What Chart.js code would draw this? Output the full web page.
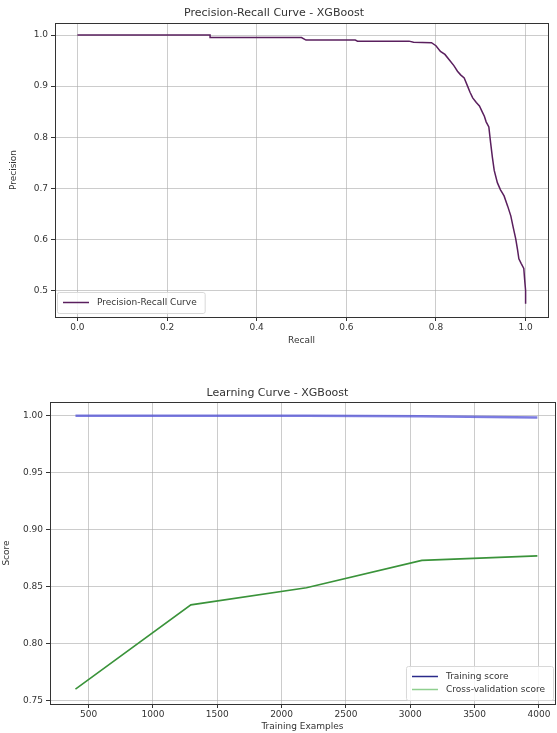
<!DOCTYPE html>
<html>
<head>
<meta charset="utf-8">
<script src="https://cdn.jsdelivr.net/npm/chart.js@4"></script>
<style>
  html, body { margin: 0; padding: 0; background: #fff; }
  #prWrap { position: absolute; left: 0; top: 0; }
  #lcWrap { position: absolute; left: 0; top: 365px; }
</style>
</head>
<body>
<div id="prWrap"><canvas id="prChart" width="557" height="365"></canvas></div>
<div id="lcWrap"><canvas id="lcChart" width="557" height="368"></canvas></div>
<script>
// precision-recall curve
const prRecall = [0.0, 0.296, 0.296, 0.50, 0.51, 0.62, 0.625, 0.74, 0.75, 0.79, 0.80, 0.81, 0.82, 0.83,
  0.84, 0.848, 0.855, 0.863, 0.871, 0.876, 0.882, 0.89, 0.897, 0.903, 0.908, 0.912, 0.918, 0.922,
  0.926, 0.93, 0.937, 0.944, 0.952, 0.96, 0.967, 0.972, 0.978, 0.982, 0.985, 0.99, 0.996, 0.998, 1.0, 1.0];
const prPrecision = [1.0, 1.0, 0.995, 0.995, 0.99, 0.99, 0.988, 0.988, 0.986, 0.985, 0.979, 0.968, 0.962, 0.951,
  0.94, 0.929, 0.922, 0.916, 0.899, 0.888, 0.877, 0.868, 0.861, 0.85, 0.841, 0.83, 0.82, 0.789,
  0.76, 0.735, 0.711, 0.697, 0.685, 0.665, 0.646, 0.625, 0.601, 0.58, 0.562, 0.553, 0.543, 0.52, 0.5, 0.474];
const prXTicks = [0, 0.2, 0.4, 0.6, 0.8, 1.0];
const prYTicks = [0.5, 0.6, 0.7, 0.8, 0.9, 1.0];

// learning curve
const trainSizes = [398, 1295, 2193, 3090, 3988];
const trainScore = [1.0, 1.0, 1.0, 0.9995, 0.9985];
const cvScore = [0.760, 0.834, 0.849, 0.873, 0.877];
const lcXTicks = [500, 1000, 1500, 2000, 2500, 3000, 3500, 4000];
const lcYTicks = [0.75, 0.80, 0.85, 0.90, 0.95, 1.00];

Chart.defaults.font.family = '"DejaVu Sans", sans-serif';
Chart.defaults.font.size = 9;
Chart.defaults.color = '#333';

const textColor = '#333';
const gridColor = 'rgba(170,170,170,0.6)';

// full box around the plot, like matplotlib spines
const frame = {
  id: 'frame',
  afterDraw(chart) {
    const { ctx, chartArea: a } = chart;
    ctx.save();
    ctx.strokeStyle = '#333';
    ctx.lineWidth = 1;
    ctx.strokeRect(Math.round(a.left) + 0.5, Math.round(a.top) + 0.5,
      Math.round(a.right - a.left), Math.round(a.bottom - a.top));
    ctx.restore();
  }
};

// legend box inside the plot area
const boxLegend = {
  id: 'boxLegend',
  afterDraw(chart, args, opts) {
    const { ctx, chartArea: a } = chart;
    const items = chart.data.datasets;
    ctx.save();
    ctx.font = '9px "DejaVu Sans", sans-serif';
    const rowH = 13;
    const w = Math.max(...items.map(d => ctx.measureText(d.label).width)) + 48;
    const h = items.length * rowH + 8;
    const x = opts.corner === 'left' ? a.left + 2 : a.right - 2 - w;
    const y = a.bottom - 4 - h;
    ctx.fillStyle = 'rgba(255,255,255,0.85)';
    ctx.strokeStyle = '#d8d8d8';
    ctx.lineWidth = 1;
    ctx.beginPath();
    ctx.roundRect(x + 0.5, y + 0.5, w, h, 2);
    ctx.fill();
    ctx.stroke();
    items.forEach((d, i) => {
      const cy = y + 4 + rowH * (i + 0.5);
      ctx.strokeStyle = d.legendColor || d.borderColor;
      ctx.lineWidth = 1.5;
      ctx.beginPath();
      ctx.moveTo(x + 6, cy);
      ctx.lineTo(x + 32, cy);
      ctx.stroke();
      ctx.fillStyle = textColor;
      ctx.textBaseline = 'middle';
      ctx.fillText(d.label, x + 40, cy);
    });
    ctx.restore();
  }
};

// one matplotlib-looking axis; size is the fixed width (y) or height (x) of the axis box
function axis(min, max, ticks, fmt, title, size, tickPad, titlePad) {
  return {
    type: 'linear',
    min: min,
    max: max,
    afterBuildTicks: s => { s.ticks = ticks.map(v => ({ value: v })); },
    afterFit: s => { if (s.isHorizontal()) s.height = size; else s.width = size; },
    ticks: { callback: v => fmt(v), color: textColor, autoSkip: false, maxRotation: 0, padding: tickPad },
    grid: { color: gridColor, tickColor: '#333', tickLength: 4 },
    border: { display: false },
    title: { display: true, text: title, color: textColor, font: { size: 9 }, padding: titlePad }
  };
}

new Chart(document.getElementById('prChart'), {
  type: 'line',
  data: {
    datasets: [{
      label: 'Precision-Recall Curve',
      data: prRecall.map((r, i) => ({ x: r, y: prPrecision[i] })),
      borderColor: '#5a1f5e',
      borderWidth: 1.5,
      pointRadius: 0,
      tension: 0
    }]
  },
  options: {
    responsive: false,
    animation: false,
    layout: { padding: { left: 0, right: 9, top: 0, bottom: 0 } },
    plugins: {
      legend: { display: false },
      tooltip: { enabled: false },
      title: {
        display: true,
        text: 'Precision-Recall Curve - XGBoost',
        color: textColor,
        font: { size: 11, weight: 'normal' },
        padding: { top: 6.4, bottom: 3.4 }
      },
      boxLegend: { corner: 'left' }
    },
    scales: {
      x: axis(-0.05, 1.05, prXTicks, v => v.toFixed(1), 'Recall', 48, 1, { top: 0, bottom: 18.6 }),
      y: axis(0.448, 1.0235, prYTicks, v => v.toFixed(1), 'Precision', 55, 3, { top: 8.6, bottom: 0 })
    }
  },
  plugins: [frame, boxLegend]
});

new Chart(document.getElementById('lcChart'), {
  type: 'line',
  data: {
    datasets: [{
      label: 'Training score',
      data: trainSizes.map((n, i) => ({ x: n, y: trainScore[i] })),
      borderColor: 'rgba(80,80,215,0.75)',
      legendColor: '#2a2a8a',
      borderWidth: 2.5,
      pointRadius: 0,
      tension: 0
    }, {
      label: 'Cross-validation score',
      data: trainSizes.map((n, i) => ({ x: n, y: cvScore[i] })),
      borderColor: '#3a933a',
      legendColor: '#8fcf8f',
      borderWidth: 1.6,
      pointRadius: 0,
      tension: 0
    }]
  },
  options: {
    responsive: false,
    animation: false,
    layout: { padding: { left: 0, right: 2, top: 0, bottom: 0 } },
    plugins: {
      legend: { display: false },
      tooltip: { enabled: false },
      title: {
        display: true,
        text: 'Learning Curve - XGBoost',
        color: textColor,
        font: { size: 11, weight: 'normal' },
        padding: { top: 21.4, bottom: 2.4 }
      },
      boxLegend: { corner: 'right' }
    },
    scales: {
      x: axis(200, 4125, lcXTicks, v => String(v), 'Training Examples', 29, 1, { top: 0, bottom: 1.4 }),
      y: axis(0.747, 1.012, lcYTicks, v => v.toFixed(2), 'Score', 50, 3, { top: 1.6, bottom: 0 })
    }
  },
  plugins: [frame, boxLegend]
});
</script>
</body>
</html>
